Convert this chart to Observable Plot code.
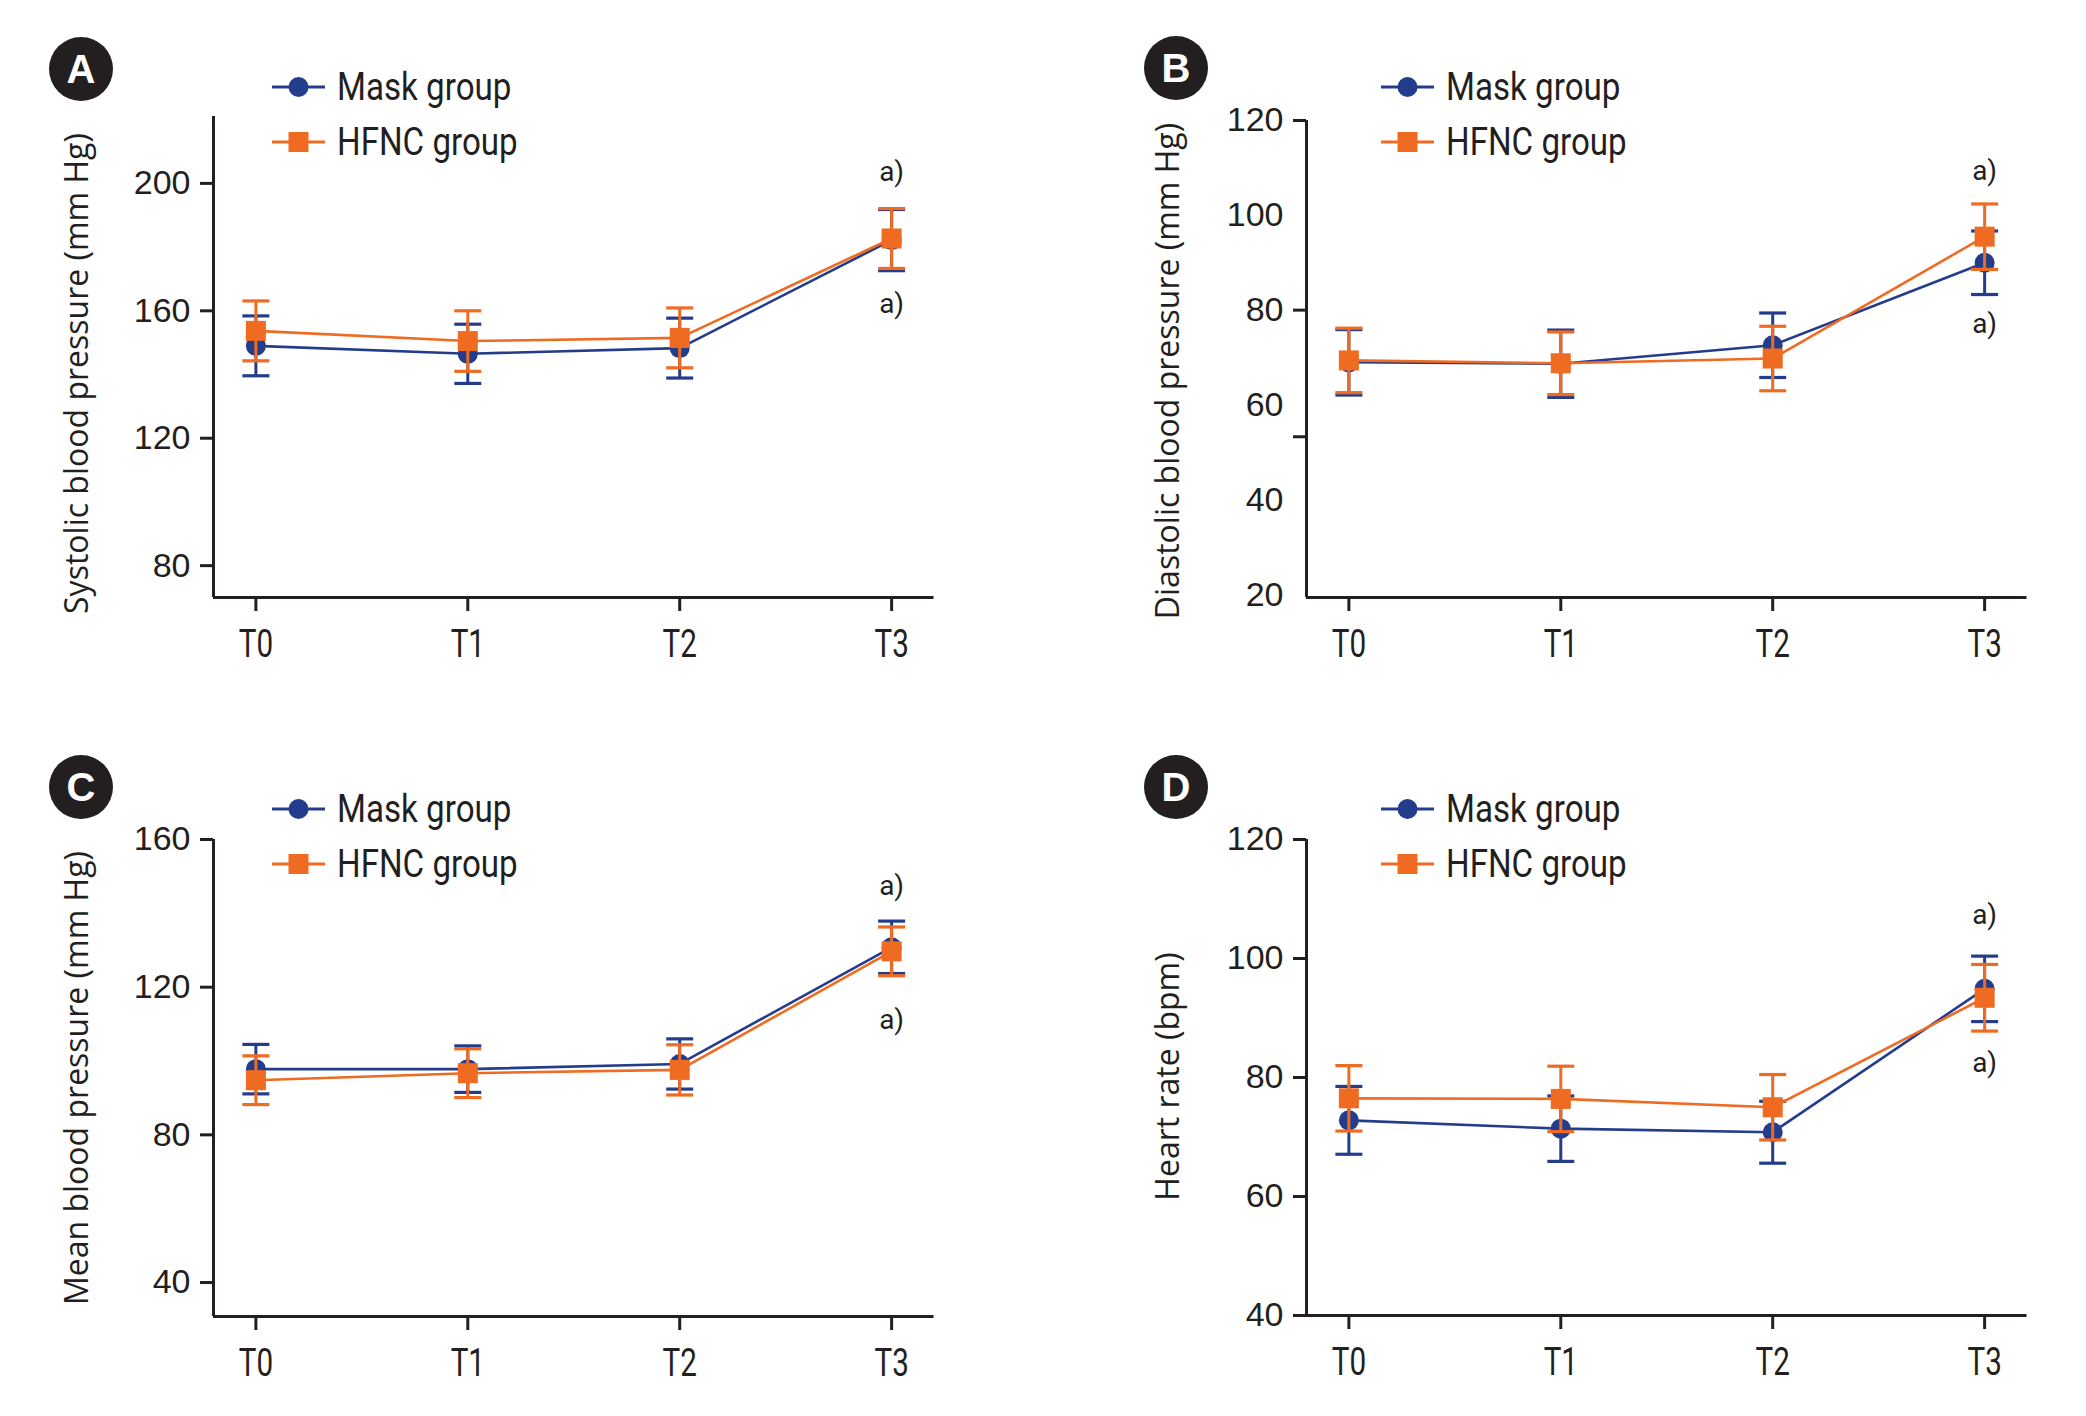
<!DOCTYPE html>
<html>
<head>
<meta charset="utf-8">
<script src="https://cdn.jsdelivr.net/npm/d3@7"></script>
<script src="https://cdn.jsdelivr.net/npm/@observablehq/plot@0.6"></script>
<style>
  body { margin: 0; background: #fff; }
  #fig { position: relative; width: 2086px; height: 1416px; overflow: hidden; background: #fff; }
  .panel { position: absolute; width: 1043px; height: 708px; }
  .panel > svg { position: absolute; left: 0; top: 0; overflow: visible; }
  .badge { position: absolute; width: 64px; height: 64px; border-radius: 50%; background: #231f20;
           color: #fff; font: bold 40px "Liberation Sans", Arial, sans-serif; display: flex;
           align-items: center; justify-content: center; }
  .legrow { position: absolute; white-space: nowrap; display: flex; align-items: center; height: 40px;
            font-family: Roboto, sans-serif; font-size: 39px; color: #231f20; }
  .legrow svg { margin-right: 12px; }
  .legrow span { display: inline-block; transform: scaleX(0.85); transform-origin: 0 50%; }
</style>
</head>
<body>
<div id="fig"></div>
<script>
// ---------- data ----------
const timepoints = ["T0", "T1", "T2", "T3"];
const seriesNames = ["Mask group", "HFNC group"];
const panelLetters = ["A", "B", "C", "D"];

// A: systolic blood pressure (mean, SD)
const sbpMask   = [149.0, 146.5, 148.3, 182.2];
const sbpMaskSD = [9.4, 9.3, 9.4, 9.6];
const sbpHfnc   = [153.7, 150.5, 151.5, 182.7];
const sbpHfncSD = [9.4, 9.5, 9.4, 9.4];
const sbpTicks  = [80, 120, 160, 200];

// B: diastolic blood pressure
const dbpMask   = [69.0, 68.7, 72.6, 90.0];
const dbpMaskSD = [6.9, 7.1, 6.8, 6.7];
const dbpHfnc   = [69.4, 68.8, 69.8, 95.5];
const dbpHfncSD = [6.8, 6.6, 6.8, 6.9];
const dbpTickLabels = [20, 40, 60, 80, 100, 120];
const dbpTickMarks  = [120, 80, 53.3];

// C: mean blood pressure
const mapMask   = [97.8, 97.8, 99.2, 130.8];
const mapMaskSD = [6.7, 6.3, 6.8, 7.1];
const mapHfnc   = [94.8, 96.7, 97.6, 129.7];
const mapHfncSD = [6.6, 6.6, 6.8, 6.6];
const mapTicks  = [40, 80, 120, 160];

// D: heart rate
const hrMask   = [72.8, 71.4, 70.8, 94.9];
const hrMaskSD = [5.7, 5.5, 5.2, 5.5];
const hrHfnc   = [76.5, 76.4, 75.0, 93.4];
const hrHfncSD = [5.5, 5.5, 5.5, 5.6];
const hrTicks  = [40, 60, 80, 100, 120];

// "a)" significance marks at T3 (upper, lower) per panel
const sigUpper = [203.5, 109.4, 147.5, 107.3];
const sigLower = [162.0, 77.1, 111.0, 82.4];

const yTitles = ["Systolic blood pressure (mm Hg)", "Diastolic blood pressure (mm Hg)",
                 "Mean blood pressure (mm Hg)", "Heart rate (bpm)"];
const yDomains = [[70, 221], [19.4, 120], [30.8, 160], [40, 120]];

// ---------- style ----------
const ink = "#231f20";
const navy = "#243c8c";
const orange = "#f06b22";
const xDomain = [-0.2, 3.2];

const capSymbol = {
  draw(ctx, size) { const w = Math.sqrt(size / Math.PI); ctx.moveTo(-w, 0); ctx.lineTo(w, 0); }
};

const panels = [
  {left: 0, top: 0, mL: 213, mR: 109.5, mT: 116, mB: 111, mask: sbpMask, maskSD: sbpMaskSD, hfnc: sbpHfnc, hfncSD: sbpHfncSD,
   labels: sbpTicks, marks: sbpTicks, tdx: -136, tdy: 16.5, badge: [81, 69], leg: [272, 87, 142]},
  {left: 1043, top: 0, mL: 263, mR: 59.5, mT: 120, mB: 111, mask: dbpMask, maskSD: dbpMaskSD, hfnc: dbpHfnc, hfncSD: dbpHfncSD,
   labels: dbpTickLabels, marks: dbpTickMarks, tdx: -138, tdy: 12, badge: [133, 68], leg: [338, 87, 142]},
  {left: 0, top: 708, mL: 213, mR: 109.5, mT: 131, mB: 100, mask: mapMask, maskSD: mapMaskSD, hfnc: mapHfnc, hfncSD: mapHfncSD,
   labels: mapTicks, marks: mapTicks, tdx: -136, tdy: 0, badge: [81, 79], leg: [272, 101, 156]},
  {left: 1043, top: 708, mL: 263, mR: 59.5, mT: 131, mB: 101, mask: hrMask, maskSD: hrMaskSD, hfnc: hrHfnc, hfncSD: hrHfncSD,
   labels: hrTicks, marks: hrTicks, tdx: -138, tdy: -1, badge: [133, 79], leg: [338, 101, 156]}
];

// horizontally condense SVG texts around their own anchor, keeping their attributes
function squeeze(nodes, s) {
  nodes.forEach(t => {
    const ax = parseFloat(t.getAttribute("x")) || 0;
    const tr = t.getAttribute("transform") || "";
    t.setAttribute("transform", `${tr} translate(${ax},0) scale(${s},1) translate(${-ax},0)`);
  });
}

const fig = document.getElementById("fig");

panels.forEach((p, k) => {
  const rows = timepoints.map((t, i) => ({
    i,
    m: p.mask[i], mLo: p.mask[i] - p.maskSD[i], mHi: p.mask[i] + p.maskSD[i],
    h: p.hfnc[i], hLo: p.hfnc[i] - p.hfncSD[i], hHi: p.hfnc[i] + p.hfncSD[i]
  }));
  const last = timepoints.length - 1;
  const sameMarks = p.labels === p.marks;
  const digitFont = "'Liberation Sans', Arial, sans-serif";

  const marks = [
    Plot.ruleY([yDomains[k][0]], {stroke: ink, strokeWidth: 3}),
    Plot.ruleX([xDomain[0]], {stroke: ink, strokeWidth: 3}),
    Plot.axisX({ticks: timepoints.map((t, i) => i), tickFormat: i => timepoints[i], tickSize: 14, tickPadding: 19,
                fontSize: 38, fontFamily: "Roboto, sans-serif", color: ink, strokeWidth: 3, label: null}),
    sameMarks
      ? Plot.axisY({ticks: p.labels, tickSize: 13, tickPadding: 10, fontSize: 34, fontFamily: digitFont,
                    color: ink, strokeWidth: 3, label: null})
      : Plot.axisY({ticks: p.labels, tickSize: 0, tickPadding: 23, fontSize: 34, fontFamily: digitFont,
                    color: ink, label: null}),
    sameMarks ? null : Plot.axisY({ticks: p.marks, tickSize: 13, text: null, color: ink, strokeWidth: 3, label: null}),
    Plot.text([yTitles[k]], {frameAnchor: "left", rotate: -90, dx: p.tdx, dy: p.tdy, fontSize: 32,
                             fontFamily: "'Open Sans', sans-serif", fill: ink, textAnchor: "middle", lineAnchor: "middle"}),
    // Mask group
    Plot.ruleX(rows, {x: "i", y1: "mLo", y2: "mHi", stroke: navy, strokeWidth: 3}),
    Plot.dot(rows, {x: "i", y: "mLo", symbol: capSymbol, r: 13.5, stroke: navy, strokeWidth: 3.2, fill: "none"}),
    Plot.dot(rows, {x: "i", y: "mHi", symbol: capSymbol, r: 13.5, stroke: navy, strokeWidth: 3.2, fill: "none"}),
    Plot.line(rows, {x: "i", y: "m", stroke: navy, strokeWidth: 2.6}),
    Plot.dot(rows, {x: "i", y: "m", symbol: "circle", r: 10, fill: navy}),
    // HFNC group
    Plot.ruleX(rows, {x: "i", y1: "hLo", y2: "hHi", stroke: orange, strokeWidth: 3}),
    Plot.dot(rows, {x: "i", y: "hLo", symbol: capSymbol, r: 13.5, stroke: orange, strokeWidth: 3.2, fill: "none"}),
    Plot.dot(rows, {x: "i", y: "hHi", symbol: capSymbol, r: 13.5, stroke: orange, strokeWidth: 3.2, fill: "none"}),
    Plot.line(rows, {x: "i", y: "h", stroke: orange, strokeWidth: 2.6}),
    Plot.dot(rows, {x: "i", y: "h", symbol: "square", r: 11.3, fill: orange}),
    // significance marks
    Plot.text([{i: last, y: sigUpper[k]}, {i: last, y: sigLower[k]}],
              {x: "i", y: "y", text: () => "a)", fontSize: 28, fontFamily: "Roboto, sans-serif", fill: ink, ariaLabel: "sig"})
  ].filter(Boolean);

  const chart = Plot.plot({
    width: 1043, height: 708,
    marginLeft: p.mL, marginRight: p.mR, marginTop: p.mT, marginBottom: p.mB,
    x: {type: "linear", domain: xDomain},
    y: {type: "linear", domain: yDomains[k]},
    style: {background: "transparent", overflow: "visible", color: ink},
    marks
  });

  squeeze(chart.querySelectorAll('g[aria-label="x-axis tick label"] text'), 0.78);
  squeeze(chart.querySelectorAll('g[aria-label="sig"] text'), 0.85);

  const div = document.createElement("div");
  div.className = "panel";
  div.style.left = p.left + "px";
  div.style.top = p.top + "px";
  div.appendChild(chart);

  // panel letter badge
  const b = document.createElement("div");
  b.className = "badge";
  b.textContent = panelLetters[k];
  b.style.left = (p.badge[0] - 32) + "px";
  b.style.top = (p.badge[1] - 32) + "px";
  div.appendChild(b);

  // legend
  seriesNames.forEach((name, s) => {
    const row = document.createElement("div");
    row.className = "legrow";
    row.style.left = p.leg[0] + "px";
    row.style.top = (p.leg[1 + s] - 20) + "px";
    const col = s === 0 ? navy : orange;
    const sw = s === 0
      ? `<circle cx="26.5" cy="20" r="10" fill="${col}"/>`
      : `<rect x="16.5" y="10" width="20" height="20" fill="${col}"/>`;
    row.innerHTML = `<svg width="53" height="40"><line x1="0" x2="53" y1="20" y2="20" stroke="${col}" stroke-width="3"/>${sw}</svg><span>${name}</span>`;
    div.appendChild(row);
  });

  fig.appendChild(div);
});
</script>
</body>
</html>
